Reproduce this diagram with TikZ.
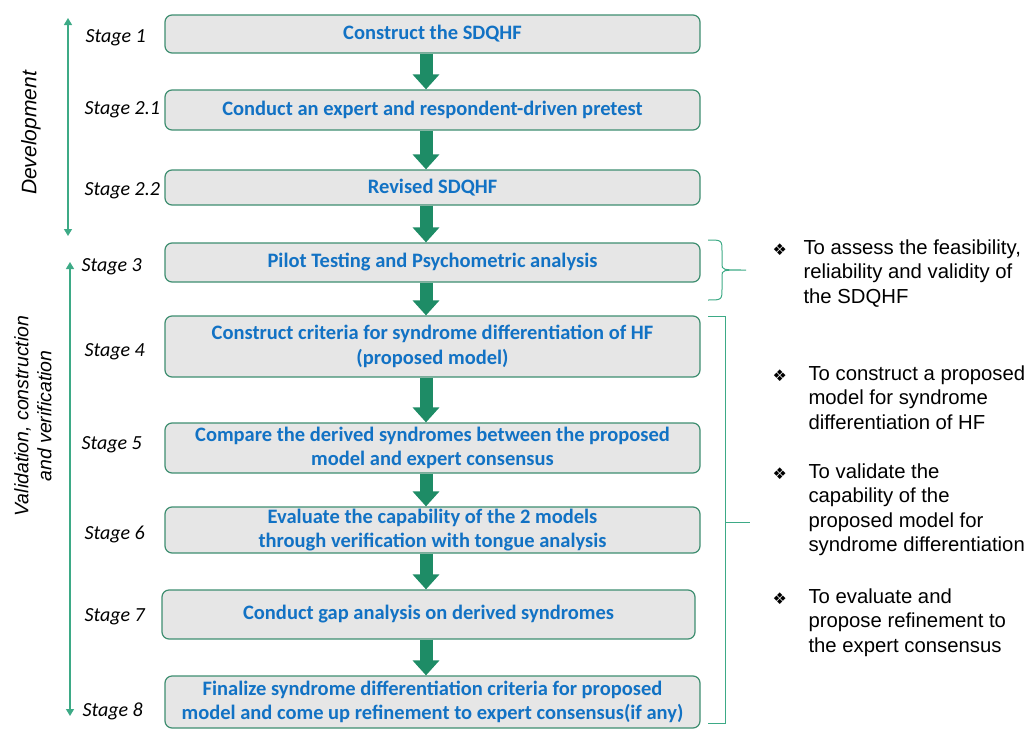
\documentclass[tikz,border=0pt]{standalone}
\usepackage{fontspec}
\setmainfont{Carlito}
\newfontfamily\arialfont{Liberation Sans}
\newfontfamily\symfont{DejaVu Sans}
\usetikzlibrary{arrows.meta}
\definecolor{boxgreen}{HTML}{3E8E70}
\definecolor{arrowgreen}{HTML}{1E8C66}
\definecolor{boxgray}{HTML}{E6E6E6}
\definecolor{textblue}{HTML}{1272C4}
\definecolor{linegreen}{HTML}{3DAA86}
\newcommand{\aimbullet}{{\symfont\fontsize{16}{16}\selectfont\char"2756}}

\begin{document}
\begin{tikzpicture}[x=1pt,y=-1pt,
	stagebox/.style={draw=boxgreen,line width=1.2pt,fill=boxgray,rounded corners=7pt,
		minimum width=535pt,inner sep=0pt,align=center,text=textblue,
		font=\fontsize{20.5}{24.5}\selectfont\bfseries},
	stagelabel/.style={anchor=west,font=\fontsize{20}{22}\selectfont\itshape},
	flow/.style={draw=arrowgreen,line width=13pt,-{Triangle[width=26pt,length=15pt]}},
	span/.style={draw=linegreen,line width=1.3pt},
	phase/.style={rotate=90,align=center,font=\arialfont\itshape\fontsize{19.5}{23}\selectfont},
	aim/.style={anchor=north west,align=left,font=\arialfont\fontsize{20.3}{24.5}\selectfont}]
	
	\useasboundingbox (0,0) rectangle (1030,728);
	
	% the stages
	\node[stagebox,minimum height=38pt] (b1)  at (432.5,34)  {Construct the SDQHF};
	\node[stagebox,minimum height=40pt] (b21) at (432.5,110) {Conduct an expert and respondent-driven pretest};
	\node[stagebox,minimum height=35pt] (b22) at (432.5,187.5) {Revised SDQHF};
	\node[stagebox,minimum height=39pt] (b3)  at (432.5,262.5) {Pilot Testing and Psychometric analysis};
	\node[stagebox,minimum height=61pt] (b4)  at (432.5,346.5) {Construct criteria for syndrome differentiation of HF\\(proposed model)};
	\node[stagebox,minimum height=50pt] (b5)  at (432.5,448) {Compare the derived syndromes between the proposed\\model and expert consensus};
	\node[stagebox,minimum height=46pt] (b6)  at (432.5,530) {Evaluate the capability of the 2 models\\through verification with tongue analysis};
	\node[stagebox,minimum height=49pt,minimum width=533pt] (b7) at (428.5,614.5) {Conduct gap analysis on derived syndromes};
	\node[stagebox,minimum height=52pt] (b8)  at (432.5,702) {Finalize syndrome differentiation criteria for proposed\\model and come up refinement to expert consensus(if any)};
	
	\coordinate (ax) at (426,0);   % axis of the flow arrows
	\foreach \a/\b in {b1/b21,b21/b22,b22/b3,b3/b4,b4/b5,b5/b6,b6/b7,b7/b8}
		\draw[flow] (\a.south -| ax) -- (\b.north -| ax);
	
	% stage labels
	\path
		(82,38)  node[stagelabel] (s1)  {Stage 1}
		(81,110) node[stagelabel] (s21) {Stage 2.1}
		(81,191) node[stagelabel] (s22) {Stage 2.2}
		(78,267) node[stagelabel] (s3)  {Stage 3}
		(81,352) node[stagelabel] (s4)  {Stage 4}
		(78,445) node[stagelabel] (s5)  {Stage 5}
		(81,534) node[stagelabel] (s6)  {Stage 6}
		(81,617) node[stagelabel] (s7)  {Stage 7}
		(79,711) node[stagelabel] (s8)  {Stage 8};
	
	% phases on the left
	\coordinate (D1) at (68,18);
	\coordinate (D2) at (68,236);
	\coordinate (V1) at (70,262);
	\coordinate (V2) at (70,716);
	\draw[span,{Triangle[width=8pt,length=7pt]}-{Triangle[width=8pt,length=7pt]}] (D1) -- (D2);
	\draw[span,{Triangle[width=8pt,length=7pt]}-{Triangle[width=8pt,length=7pt]}] (V1) -- (V2);
	\node[phase,font=\arialfont\itshape\fontsize{21}{23}\selectfont] (dev) at (31,133) {Development};
	\node[phase] (val) at (33,416) {Validation, construction\\and verification};
	
	% brackets on the right
	\coordinate (P) at (746,270);   % tip of the brace
	\coordinate (Q) at (750,522);   % tip of the bracket
	\draw[span,line width=1pt] (708,240) .. controls (722,240) .. (722,252) -- (722,264)
		.. controls (722,270) .. (P) .. controls (722,270) .. (722,276) -- (722,288)
		.. controls (722,300) .. (708,300);
	\draw[span,line width=1pt] (708,316) -- (725,316) -- (725,723) -- (708,723)
		(725,522) -- (Q);
	
	% aims
	\path
		(769,240) node[anchor=north west] (m1) {\aimbullet}
		(800,236) node[aim] (a1) {To assess the feasibility,\\reliability and validity of\\the SDQHF}
		(769,366) node[anchor=north west] (m2) {\aimbullet}
		(805,362) node[aim] (a2) {To construct a proposed\\model for syndrome\\differentiation of HF}
		(769,464) node[anchor=north west] (m3) {\aimbullet}
		(805,460) node[aim] (a3) {To validate the\\capability of the\\proposed model for\\syndrome differentiation}
		(769,589) node[anchor=north west] (m4) {\aimbullet}
		(805,585) node[aim] (a4) {To evaluate and\\propose refinement to\\the expert consensus};
	
\end{tikzpicture}
\end{document}
